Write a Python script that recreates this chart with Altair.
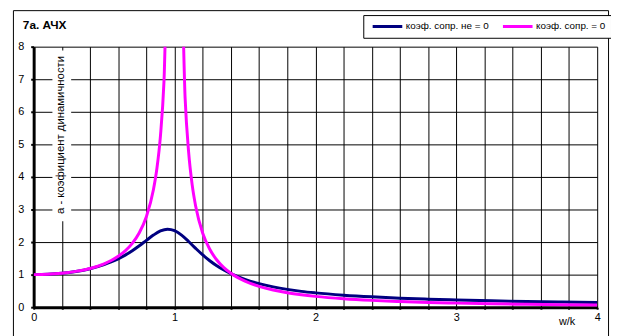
import altair as alt
import pandas as pd

# ---- data ----
series_names = ["коэф. сопр. не = 0", "коэф. сопр. = 0"]
series_colors = ["#000080", "#FF00FF"]

navy_x = [0, 0.1, 0.2, 0.3, 0.4, 0.5, 0.55, 0.6, 0.65, 0.7, 0.75, 0.8, 0.85, 0.9,
          0.95, 1.0, 1.05, 1.1, 1.15, 1.2, 1.25, 1.3, 1.35, 1.4, 1.5, 1.6, 1.7,
          1.8, 1.9, 2.0, 2.2, 2.4, 2.6, 2.8, 3.0, 3.25, 3.5, 3.75, 4.0]
navy_y = [1.000, 1.010, 1.041, 1.097, 1.182, 1.307, 1.389, 1.486, 1.600, 1.735,
          1.887, 2.052, 2.214, 2.342, 2.396, 2.351, 2.212, 2.017, 1.806, 1.605,
          1.426, 1.272, 1.140, 1.029, 0.853, 0.722, 0.624, 0.547, 0.486, 0.440,
          0.370, 0.318, 0.278, 0.247, 0.222, 0.197, 0.176, 0.160, 0.146]

mag_x = [0, 0.1, 0.2, 0.3, 0.4, 0.5, 0.55, 0.6, 0.65, 0.7, 0.75, 0.8, 0.85, 0.875,
         0.9, 0.925, 0.95, 1.05, 1.075, 1.1, 1.125, 1.15, 1.2, 1.25, 1.3, 1.35,
         1.4, 1.5, 1.6, 1.7, 1.8, 1.9, 2.0, 2.2, 2.4, 2.6, 2.8, 3.0, 3.25, 3.5,
         3.75, 4.0]
mag_y = [1.000, 1.010, 1.042, 1.099, 1.190, 1.333, 1.434, 1.563, 1.732, 1.961,
         2.286, 2.778, 3.604, 4.267, 5.263, 6.926, 10.256, 9.756, 6.426, 4.762,
         3.765, 3.101, 2.273, 1.778, 1.449, 1.216, 1.042, 0.800, 0.641, 0.529,
         0.446, 0.383, 0.333, 0.260, 0.210, 0.174, 0.146, 0.125, 0.105, 0.089,
         0.077, 0.067]

x_ticks = [0, 0.2, 0.4, 0.6, 0.8, 1, 1.2, 1.4, 1.6, 1.8, 2, 2.2, 2.4, 2.6, 2.8,
           3, 3.2, 3.4, 3.6, 3.8, 4]
y_ticks = [0, 1, 2, 3, 4, 5, 6, 7, 8]

title_text = "7a. АЧХ"
y_title = "а - коэфициент динамичности"
x_title = "w/k"

FONT = "Liberation Sans"

df_navy = pd.DataFrame({"x": navy_x, "y": navy_y, "s": series_names[0]})
df_mag = pd.DataFrame({"x": mag_x, "y": mag_y, "s": series_names[1]})

x_enc = alt.X("x:Q", scale=alt.Scale(domain=[0, 4], nice=False, zero=False),
              axis=alt.Axis(values=x_ticks,
                            labelExpr="datum.value == round(datum.value) ? format(datum.value, 'd') : ''",
                            grid=True, gridColor="#000000", gridWidth=1,
                            domainColor="black", domainWidth=3,
                            tickColor="black", tickSize=2, tickWidth=2,
                            labelFont=FONT, labelFontSize=11, labelColor="black",
                            labelPadding=2, labelAngle=0, labelFlush=False,
                            labelOverlap=False,
                            title=x_title, titleX=540, titleY=15,
                            titleAlign="center", titleBaseline="middle",
                            titleFont=FONT, titleFontSize=11,
                            titleFontWeight="normal", titleColor="black"))
y_enc = alt.Y("y:Q", scale=alt.Scale(domain=[0, 8], nice=False, zero=True),
              axis=alt.Axis(values=y_ticks, grid=True, gridColor="#000000",
                            gridWidth=1, domainColor="black", domainWidth=3,
                            tickColor="black", tickSize=3, tickWidth=2,
                            labelFont=FONT, labelFontSize=11, labelColor="black",
                            labelPadding=7, title=""))
color_enc = alt.Color("s:N",
                      scale=alt.Scale(domain=series_names, range=series_colors),
                      legend=alt.Legend(orient="none", legendX=334, legendY=-32,
                                        direction="horizontal", title=None,
                                        symbolType="stroke", symbolSize=900,
                                        symbolStrokeWidth=3, clipHeight=13,
                                        padding=5, symbolOffset=3,
                                        strokeColor="black", fillColor="white",
                                        labelFont=FONT, labelFontSize=10,
                                        labelColor="black", labelOffset=2,
                                        columnPadding=9, labelLimit=300))

one = alt.Data(values=[{}])

frame = alt.Chart(one).mark_rect(filled=False, stroke="black", strokeWidth=1).encode(
    x=alt.value(-20.5), x2=alt.value(582.5), y=alt.value(-36.5), y2=alt.value(320))
label_bg = alt.Chart(one).mark_rect(fill="white").encode(
    x=alt.value(19), x2=alt.value(38), y=alt.value(4), y2=alt.value(177))
label_txt = alt.Chart(one).mark_text(angle=270, align="center", baseline="middle",
                                     font=FONT, fontSize=11.5, color="black").encode(
    x=alt.value(27.5), y=alt.value(89.5), text=alt.value(y_title))
title_mark = alt.Chart(one).mark_text(align="left", baseline="middle", font=FONT,
                                      fontSize=12, fontWeight="bold",
                                      color="black").encode(
    x=alt.value(-11), y=alt.value(-22), text=alt.value(title_text))

navy = alt.Chart(df_navy).mark_line(clip=True, strokeWidth=3,
                                    interpolate="monotone").encode(
    x=x_enc, y=y_enc, color=color_enc)
mag = alt.Chart(df_mag).mark_line(clip=True, strokeWidth=3,
                                  interpolate="monotone").encode(
    x=x_enc, y=y_enc, color=color_enc)

chart = alt.layer(frame, label_bg, label_txt, navy, mag, title_mark).properties(
    width=571, height=264,
    padding={"left": 26, "top": 37, "right": 14, "bottom": 27},
    autosize=alt.AutoSizeParams(type="none"),
    background="white",
).configure_view(strokeWidth=0)

chart.save("out.html", embed_options={"renderer": "svg", "actions": False})
